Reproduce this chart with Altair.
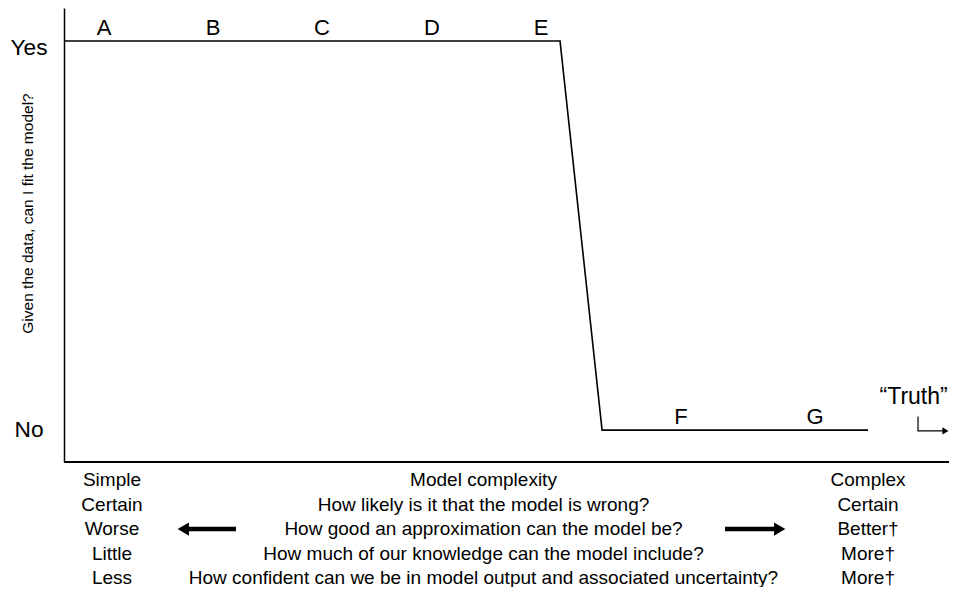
import altair as alt
import pandas as pd

FONT = "Liberation Sans"

# Curve: model complexity (0-100) vs "can I fit the model?" (1 = Yes, 0 = No)
curve_x = [0, 56.05, 60.8, 90.85]
curve_y = [1, 1, 0, 0]

letters = ["A", "B", "C", "D", "E", "F", "G"]
letter_x = [4.52, 16.84, 29.15, 41.58, 53.9, 69.7, 84.86]
letter_y = [1, 1, 1, 1, 1, 0, 0]

level_labels = ["Yes", "No"]
level_y = [0.982, 0.0]
level_x = -3.95

truth_label = "\u201cTruth\u201d"
truth_x = 96.0
truth_path_x = [96.5, 96.5, 99.3]
truth_path_y = [0.035, -0.002, -0.002]

left_col = ["Simple", "Certain", "Worse", "Little", "Less"]
mid_col = [
    "Model complexity",
    "How likely is it that the model is wrong?",
    "How good an approximation can the model be?",
    "How much of our knowledge can the model include?",
    "How confident can we be in model output and associated uncertainty?",
]
right_col = ["Complex", "Certain", "Better\u2020", "More\u2020", "More\u2020"]
col_x = [5.42, 47.4, 90.85]

row_top = -0.1285
row_step = -0.0630

arrow_left = [12.88, 19.43]
arrow_right = [74.69, 81.47]
arrow_row = 2

axis_y = -0.082
axis_x = [0, 100]

curve_df = pd.DataFrame({"x": curve_x, "y": curve_y, "o": range(len(curve_x))})
letters_df = pd.DataFrame({"t": letters, "x": letter_x, "y": letter_y})
levels_df = pd.DataFrame({"t": level_labels, "x": [level_x] * 2, "y": level_y})
truth_df = pd.DataFrame({"t": [truth_label], "x": [truth_x], "y": [0.068]})
truth_path_df = pd.DataFrame({"x": truth_path_x, "y": truth_path_y, "o": range(3)})
xaxis_df = pd.DataFrame({"x": [axis_x[0]], "x2": [axis_x[1]], "y": [axis_y]})

rows = []
for i in range(5):
    yy = row_top + i * row_step
    rows.append({"t": left_col[i], "x": col_x[0], "y": yy})
    rows.append({"t": mid_col[i], "x": col_x[1], "y": yy})
    rows.append({"t": right_col[i], "x": col_x[2], "y": yy})
rows_df = pd.DataFrame(rows)

ay = row_top + arrow_row * row_step
arrows_df = pd.DataFrame({
    "x": [arrow_left[1], arrow_right[0]],
    "x2": [arrow_left[0] + 1.0, arrow_right[1] - 1.0],
    "y": [ay, ay],
})
heads_df = pd.DataFrame({
    "x": [arrow_left[0] + 0.6, arrow_right[1] - 0.6, truth_path_x[-1] + 0.3],
    "y": [ay, ay, truth_path_y[-1]],
    "shape": ["triangle-left", "triangle-right", "triangle-right"],
    "size": [170, 170, 50],
})

xs = alt.Scale(domain=[0, 100], nice=False, zero=False)
ys = alt.Scale(domain=[-0.082, 1.085], nice=False, zero=False)

base_x = alt.X("x:Q", scale=xs, axis=alt.Axis(
    domain=False, ticks=False, labels=False, grid=False, title=None))
base_y = alt.Y("y:Q", scale=ys, axis=alt.Axis(
    domain=True, domainColor="black", domainWidth=1.5, ticks=False, grid=False,
    labels=False,
    title="Given the data, can I fit the model?", titleFont=FONT,
    titleFontSize=15.5, titleFontWeight="normal", titleColor="black",
    titleX=-29, titleY=205, titleAngle=-90))

curve = alt.Chart(curve_df).mark_line(color="black", strokeWidth=1.6).encode(
    x=base_x, y=base_y, order="o:Q")

xaxis_line = alt.Chart(xaxis_df).mark_rule(color="black", strokeWidth=2).encode(
    x=alt.X("x:Q", scale=xs), x2="x2:Q", y=alt.Y("y:Q", scale=ys))

letter_marks = alt.Chart(letters_df).mark_text(
    font=FONT, fontSize=22, color="black", baseline="alphabetic", dy=-6).encode(
    x=alt.X("x:Q", scale=xs), y=alt.Y("y:Q", scale=ys), text="t:N")

level_marks = alt.Chart(levels_df).mark_text(
    font=FONT, fontSize=22.7, color="black", baseline="middle", align="center").encode(
    x=alt.X("x:Q", scale=xs), y=alt.Y("y:Q", scale=ys), text="t:N")

truth_text = alt.Chart(truth_df).mark_text(
    font=FONT, fontSize=23, color="black", baseline="alphabetic").encode(
    x=alt.X("x:Q", scale=xs), y=alt.Y("y:Q", scale=ys), text="t:N")

truth_path = alt.Chart(truth_path_df).mark_line(color="black", strokeWidth=1.2).encode(
    x=alt.X("x:Q", scale=xs), y=alt.Y("y:Q", scale=ys), order="o:Q")

row_text = alt.Chart(rows_df).mark_text(
    font=FONT, fontSize=19, color="black", baseline="middle").encode(
    x=alt.X("x:Q", scale=xs), y=alt.Y("y:Q", scale=ys), text="t:N")

arrow_shafts = alt.Chart(arrows_df).mark_rule(color="black", strokeWidth=4.5).encode(
    x=alt.X("x:Q", scale=xs), x2="x2:Q", y=alt.Y("y:Q", scale=ys))

arrow_heads = alt.Chart(heads_df).mark_point(
    filled=True, color="black", opacity=1, strokeWidth=0).encode(
    x=alt.X("x:Q", scale=xs), y=alt.Y("y:Q", scale=ys),
    shape=alt.Shape("shape:N", scale=None),
    size=alt.Size("size:Q", scale=None))

chart = alt.layer(
    curve, xaxis_line, letter_marks, level_marks, truth_text, truth_path,
    row_text, arrow_shafts, arrow_heads
).properties(
    width=885, height=454,
    autosize=alt.AutoSizeParams(type="none"),
    padding={"left": 56, "top": 0, "right": 0, "bottom": 125},
    background="white",
).configure_view(stroke=None)

chart.save("out.html", embed_options={"renderer": "svg", "actions": False})
